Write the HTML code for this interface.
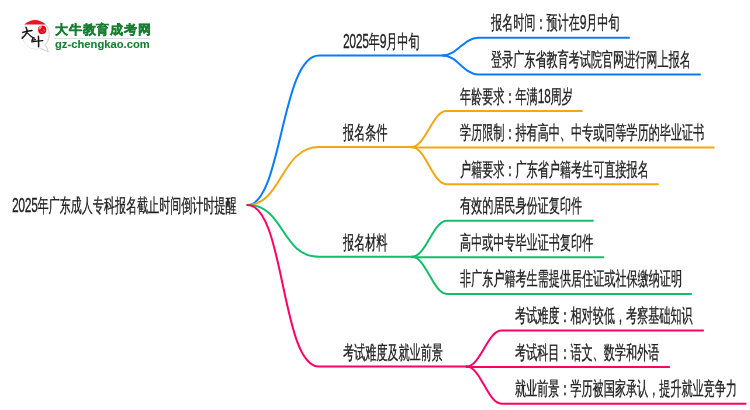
<!DOCTYPE html>
<html><head><meta charset="utf-8"><style>
html,body{margin:0;padding:0;background:#fff;width:750px;height:410px;overflow:hidden;position:relative}
.t{position:absolute;font-family:"Liberation Sans",sans-serif;font-size:18.8px;line-height:1;white-space:nowrap;color:#222;transform:scaleX(0.5842);transform-origin:0 0;will-change:transform;-webkit-text-stroke:0.35px #222}
.d{font-size:20.4px;line-height:0;letter-spacing:-0.35px}
svg{position:absolute;left:0;top:0}
svg.m path{fill:none;stroke-width:2;stroke-linecap:round}
.logo{position:absolute;left:0;top:0}
.lt1{position:absolute;left:54.5px;top:23.2px;font-family:"Liberation Sans",sans-serif;font-weight:bold;font-size:13.2px;line-height:1;color:#177d30;white-space:nowrap;letter-spacing:0.75px;-webkit-text-stroke:0.35px #177d30;will-change:transform}
.lt2{position:absolute;left:55.3px;top:39.0px;font-family:"Liberation Sans",sans-serif;font-weight:bold;font-size:11.2px;line-height:1;color:#177d30;white-space:nowrap;letter-spacing:0.02px;-webkit-text-stroke:0.1px #177d30;will-change:transform}
.lline{position:absolute;left:54px;top:38.3px;width:96px;height:1.2px;background:#d6e3da}
</style></head><body>
<svg class="m" width="750" height="410" viewBox="0 0 750 410"><path d="M247.50,205.00 C281.82,205.00 281.11,55.40 319.00,55.40 L443.0,55.4" stroke="#0a7bff"/><path d="M443.00,55.40 C457.00,55.40 464.00,37.80 478.00,37.80 L629.00,37.80" stroke="#0a7bff"/><path d="M443.00,55.40 C457.00,55.40 464.00,74.39 478.00,74.39 L700.00,74.39" stroke="#0a7bff"/><path d="M247.50,205.00 C281.82,205.00 281.11,146.90 319.00,146.90 L411.5,146.9" stroke="#f2a713"/><path d="M411.50,146.90 C425.50,146.90 432.50,110.98 446.50,110.98 L581.90,110.98" stroke="#f2a713"/><path d="M411.5,147.57 L713.80,147.57" stroke="#f2a713"/><path d="M411.50,146.90 C425.50,146.90 432.50,184.16 446.50,184.16 L658.00,184.16" stroke="#f2a713"/><path d="M247.50,205.00 C284.68,205.00 281.11,256.80 319.00,256.80 L412.0,256.8" stroke="#13be6a"/><path d="M412.00,256.80 C426.00,256.80 433.00,220.75 447.00,220.75 L592.90,220.75" stroke="#13be6a"/><path d="M412.0,257.34 L603.40,257.34" stroke="#13be6a"/><path d="M412.00,256.80 C426.00,256.80 433.00,293.93 447.00,293.93 L691.00,293.93" stroke="#13be6a"/><path d="M247.50,205.00 C284.68,205.00 281.11,366.50 319.00,366.50 L466.6,366.5" stroke="#ff0066"/><path d="M466.60,366.50 C480.60,366.50 487.60,330.52 501.60,330.52 L703.10,330.52" stroke="#ff0066"/><path d="M466.6,367.11 L669.10,367.11" stroke="#ff0066"/><path d="M466.60,366.50 C480.60,366.50 487.60,403.70 501.60,403.70 L745.60,403.70" stroke="#ff0066"/></svg>
<div class="t" style="left:11.8px;top:196.6px;transform:scaleX(0.5816)"><span class="d">2025</span>年广东成人专科报名截止时间倒计时提醒</div>
<div class="t" style="left:342.5px;top:32.7px"><span class="d">2025</span>年<span class="d">9</span>月中旬</div>
<div class="t" style="left:491.2px;top:14.3px">报名时间：预计在<span class="d">9</span>月中旬</div>
<div class="t" style="left:491.2px;top:50.9px">登录广东省教育考试院官网进行网上报名</div>
<div class="t" style="left:342.5px;top:124.2px">报名条件</div>
<div class="t" style="left:459.7px;top:87.5px">年龄要求：年满<span class="d">18</span>周岁</div>
<div class="t" style="left:459.7px;top:124.1px">学历限制：持有高中、中专或同等学历的毕业证书</div>
<div class="t" style="left:459.7px;top:160.7px">户籍要求：广东省户籍考生可直接报名</div>
<div class="t" style="left:342.5px;top:234.1px">报名材料</div>
<div class="t" style="left:460.2px;top:197.2px">有效的居民身份证复印件</div>
<div class="t" style="left:460.2px;top:233.8px">高中或中专毕业证书复印件</div>
<div class="t" style="left:460.2px;top:270.4px">非广东户籍考生需提供居住证或社保缴纳证明</div>
<div class="t" style="left:342.5px;top:343.8px">考试难度及就业前景</div>
<div class="t" style="left:514.8px;top:307.0px">考试难度：相对较低，考察基础知识</div>
<div class="t" style="left:514.8px;top:343.6px">考试科目：语文、数学和外语</div>
<div class="t" style="left:514.8px;top:380.2px">就业前景：学历被国家承认，提升就业竞争力</div>
<svg class="logo" width="60" height="60" viewBox="0 0 60 60">
<path d="M45.5,44.5 A13.4,14.6 0 1 0 40.5,48.2 L48.3,51.8 Z" fill="#fff" stroke="#dcdcdc" stroke-width="0.7"/>
<path d="M46.8,25.5 A13.4,14.6 0 0 1 45.5,44.5 L48.3,51.8 L40.5,48.2" fill="none" stroke="#c8c8c8" stroke-width="0.7"/>
<path d="M24.2,24.6 Q35,15.3 45.8,24.6 Z" fill="#e8141e"/>
<path d="M38.4,27.2 Q39.5,25.4 42.5,25.4 Q46.2,25.8 46.3,29.5 Q46.5,33.8 42.5,34.1 Q38.6,34.3 38.2,31 Z" fill="#e60012"/>
<path d="M39,26.8 Q40.5,25.8 42,26.2 Q41.5,28.5 40,29.8 Q38.9,29.5 39,26.8 Z" fill="#f4a6a6"/>
<path d="M43.5,29.2 L44.6,31.5 M40.8,31.2 L42.6,32.6" stroke="#f7c6c6" stroke-width="0.7" fill="none"/>
<path d="M22.8,32.4 Q27,31.2 32,30.5" stroke="#111" stroke-width="1.5" fill="none" stroke-linecap="round"/>
<path d="M26,27.4 Q27.6,30 26.8,32.5 Q25,36 22.2,38.2" stroke="#111" stroke-width="1.5" fill="none" stroke-linecap="round"/>
<path d="M27.3,32.9 Q30,35.5 31.5,36.8 Q33,37.9 34.6,38.2" stroke="#111" stroke-width="1.3" fill="none" stroke-linecap="round"/>
<path d="M33,38 L31.8,40.4 L35.5,39.6" stroke="#111" stroke-width="1.2" fill="none" stroke-linecap="round" stroke-linejoin="round"/>
<path d="M31.7,41.8 Q37,41 42.8,40.6" stroke="#111" stroke-width="1.3" fill="none" stroke-linecap="round"/>
<path d="M38.4,36.2 Q38.8,41 38.6,46.8" stroke="#111" stroke-width="1.5" fill="none" stroke-linecap="round"/>
</svg>
<div class="lt1">大牛教育成考网</div>
<div class="lline"></div>
<div class="lt2">gz-chengkao.com</div>
</body></html>
